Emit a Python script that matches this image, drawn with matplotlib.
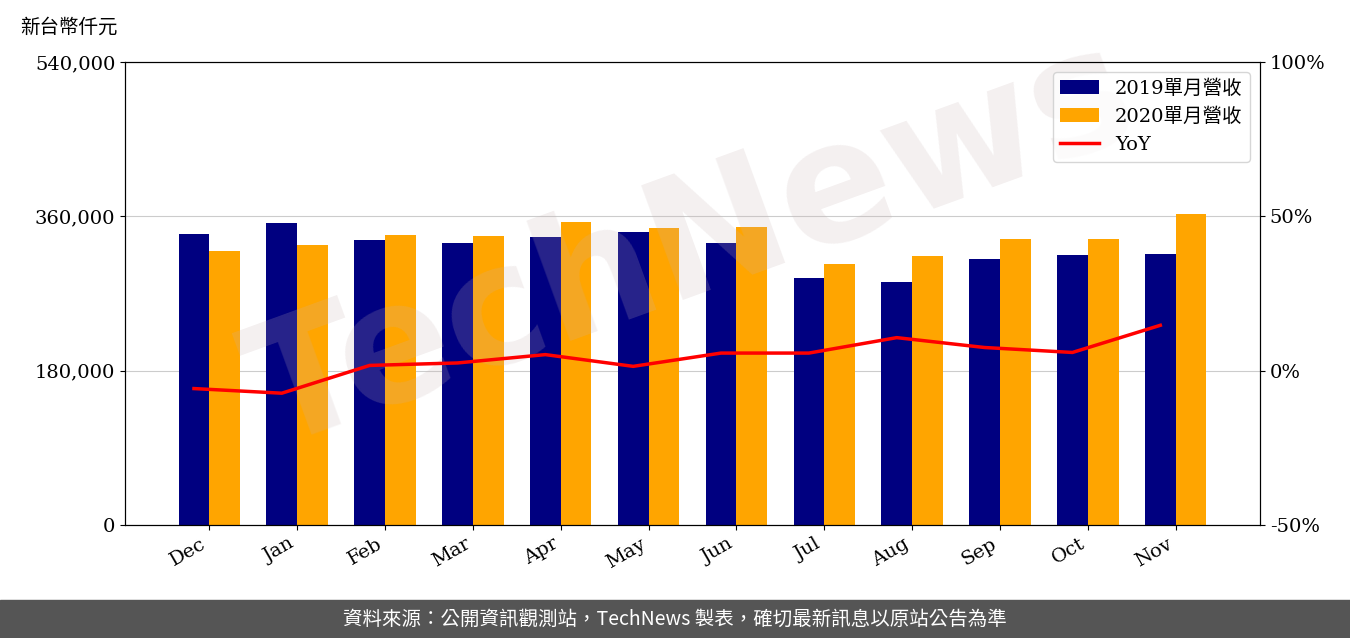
import matplotlib.pyplot as plt
import numpy as np

plt.rcParams['font.family'] = ['DejaVu Serif', 'Noto Sans CJK TC']

months = ["Dec", "Jan", "Feb", "Mar", "Apr", "May", "Jun", "Jul", "Aug", "Sep", "Oct", "Nov"]
rev_2019 = [339300, 352100, 332300, 328800, 335800, 341600, 328800, 288000, 283300, 310200, 314800, 316000]
rev_2020 = [319500, 326500, 338100, 337000, 353300, 346300, 347500, 304300, 313700, 333500, 333500, 362600]
yoy = [-5.8, -7.3, 1.7, 2.5, 5.2, 1.4, 5.7, 5.7, 10.7, 7.5, 5.9, 14.7]

fig = plt.figure(figsize=(13.5, 6.38), dpi=100)
ax = fig.add_axes([125 / 1350, 1 - 525 / 638, 1135 / 1350, 463 / 638])
x = np.arange(len(months))
w = 0.35
ax.bar(x - w / 2, rev_2019, w, color="#000080", label="2019單月營收", zorder=2)
ax.bar(x + w / 2, rev_2020, w, color="#FFA500", label="2020單月營收", zorder=2)
ax.set_ylim(0, 540000)
ax.set_xlim(-0.96, 11.96)
ax.set_yticks([0, 180000, 360000, 540000])
ax.set_yticklabels(["0", "180,000", "360,000", "540,000"], fontsize=14)
ax.set_xticks(x)
ax.set_xticklabels(months, rotation=30, ha="right", fontsize=14)
ax.grid(axis="y", color="#cccccc", zorder=0)

ax2 = ax.twinx()
# the YoY line sits on the 2019 bar centres
ax2.plot(x - w / 2, yoy, color="red", linewidth=2.5, label="YoY", zorder=3)
ax2.set_ylim(-50, 100)
ax2.set_yticks([-50, 0, 50, 100])
ax2.set_yticklabels(["-50%", "0%", "50%", "100%"], fontsize=14)

h1, l1 = ax.get_legend_handles_labels()
h2, l2 = ax2.get_legend_handles_labels()
leg = ax2.legend(h1 + h2, l1 + l2, loc="upper right", fontsize=14)
leg.set_zorder(10)

ax2.text(0.5, 0.6, "TechNews", transform=ax2.transAxes, fontsize=120, fontweight="bold",
         color="#c8b4b4", alpha=0.2, rotation=20, ha="center", va="center",
         family="DejaVu Sans", zorder=1)

fig.text(20 / 1350, 1 - 27 / 638, "新台幣仟元", fontsize=14, family="Noto Sans CJK TC", va="center")

fig.patches.append(plt.Rectangle((0, 0), 1, 38 / 638, transform=fig.transFigure,
                                 color="#555555", zorder=0))
fig.text(0.5, 19 / 638, "資料來源：公開資訊觀測站，TechNews 製表，確切最新訊息以原站公告為準",
         color="white", fontsize=14, ha="center", va="center",
         family=["Noto Sans CJK TC", "DejaVu Sans"])

fig.savefig("out.png")
